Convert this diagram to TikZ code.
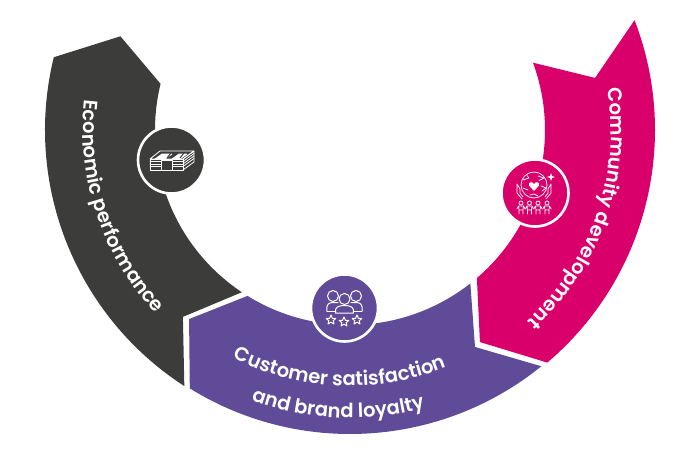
\documentclass[tikz,border=0pt]{standalone}
\usepackage{fontspec}
\setmainfont[BoldFont={Poppins SemiBold}]{Poppins}
\usetikzlibrary{decorations.text}
\definecolor{dk}{HTML}{3C3C3B}
\definecolor{pu}{HTML}{5F4B97}
\definecolor{mg}{HTML}{D9006C}
\tikzset{x=1pt,y=1pt,
 img/.style={shift={(-350,130)},yscale=-1},
 badge/.style={circle,draw=white,line width=2.6pt,inner sep=0pt,minimum size=67pt},
 ic/.style={draw=white,line width=0.8pt,line join=round,line cap=round},
 curved/.style={decorate,decoration={text along path,text align=center,raise=0pt,
   text={|\fontsize{19.5}{20}\bfseries\color{white}|#1}}}}
\begin{document}
\begin{tikzpicture}
\useasboundingbox (-350,-320) rectangle (350,130);
\fill[white] (-350,-320) rectangle (350,130);
% segments
\fill[dk] (166.2:305) arc[start angle=166.2,end angle=237.1,radius=305pt] -- (228.2:250.7) -- (236.3:195) arc[start angle=236.3,end angle=166.3,radius=195pt] -- (157.8:248) -- cycle;
\fill[pu] (238.2:304) arc[start angle=238.2,end angle=309,radius=304pt] -- (299.95:250.4) -- (308.1:195) arc[start angle=308.1,end angle=238.3,radius=195pt] -- (229.6:248.3) -- cycle;
\fill[mg] (310.3:305) arc[start angle=310.3,end angle=381.1,radius=305pt] -- (12:250.5) -- (20.2:195) arc[start angle=20.2,end angle=-49.4,radius=195pt] -- (301.5:248.7) -- cycle;
% badges
\node[badge,fill=dk] (b1) at (-178.5,-30) {};
\node[badge,fill=pu] (b2) at (-5.5,-178) {};
\node[badge,fill=mg] (b3) at (185,-63) {};
% labels
\path[curved={Economic performance}] (172.6:267) arc[start angle=172.6,end angle=224.2,radius=267pt];
\path[curved={Customer satisfaction}] (240:256) arc[start angle=240,end angle=295,radius=256pt];
\path[curved={and brand loyalty}] (248:288) arc[start angle=248,end angle=287,radius=288pt];
\path[curved={Community development}] (12:261) arc[start angle=12,end angle=-50,radius=261pt];
% money icon
\begin{scope}[img]
\draw[ic,fill=dk] (150,159) -- (160,151) -- (194,151) -- (183,159) -- cycle;
\draw[ic,fill=dk] (150,159) rectangle (183,170);
\draw[ic] (183,159) -- (194,151) -- (194,162) -- (183,170);
\draw[ic] (183,161.5) -- (194,153.5) (183,164) -- (194,156) (183,166.5) -- (194,158.5);
\draw[ic] (150,161.5) -- (183,161.5) (150,164) -- (183,164) (150,166.5) -- (183,166.5);
\draw[ic,fill=white] (155,159) -- (162,154) -- (172,154) -- (165,159) -- cycle;
\draw[ic,fill=white] (172,159) -- (179,154) -- (187,154) -- (180,159) -- cycle;
\draw[dk,line width=1pt] (167,158) -- (171,153) (180,158) -- (184,153);
\draw[ic,fill=dk,line width=1pt] (162,160) rectangle (173,170);
% people icon
\draw[ic,line width=1pt] (333,296) circle[radius=5.5];
\draw[ic,line width=1pt] (356,296) circle[radius=5.5];
\draw[ic,line width=1pt] (327,311) .. controls (326,304) and (329,302.5) .. (333,302.5) -- (338,302.5);
\draw[ic,line width=1pt] (327,311) -- (336,311);
\draw[ic,line width=1pt] (362,311) .. controls (363,304) and (360,302.5) .. (356,302.5) -- (351,302.5);
\draw[ic,line width=1pt] (362,311) -- (353,311);
\draw[ic,fill=pu,line width=1pt] (344.5,299) circle[radius=5.5];
\draw[ic,fill=pu,line width=1pt] (335.5,313) .. controls (334.5,307) and (338.5,305.5) .. (344.5,305.5) .. controls (350.5,305.5) and (354.5,307) .. (353.5,313) -- cycle;
\foreach \cx/\cy in {331/320,344/322,357/320}{
 \draw[ic,line width=1pt] (\cx,\cy-5) -- (\cx+1.4,\cy-1.7) -- (\cx+4.8,\cy-1.5) -- (\cx+2.2,\cy+0.7) -- (\cx+3,\cy+4) -- (\cx,\cy+2.2) -- (\cx-3,\cy+4) -- (\cx-2.2,\cy+0.7) -- (\cx-4.8,\cy-1.5) -- (\cx-1.4,\cy-1.7) -- cycle;
}
% community icon
\draw[ic,line width=0.7pt] (534,185) circle[radius=13];
\fill[white] (534,191) -- (529,185.5) .. controls (528,182) and (532,181) .. (534,184) .. controls (536,181) and (540,182) .. (539,185.5) -- cycle;
\draw[ic,line width=0.7pt] (523,180) -- (529,178) -- (527,175.5) (538,176) -- (544,178) -- (539,180.5) (523,188) -- (528,190) (541,186) -- (546,188) -- (542,191) (530,195) -- (534,194) -- (538,196);
\foreach \s/\hx in {-1/517,1/551}{
 \draw[ic,line width=0.7pt] (\hx+\s*0,184) -- (\hx+\s*0,193) -- (\hx-\s*5,199) (\hx+\s*0,184) -- (\hx-\s*3,189) -- (\hx-\s*3,193) -- (\hx-\s*6,197);
}
\fill[white] (551,173) -- (552,176) -- (555,177) -- (552,178) -- (551,181) -- (550,178) -- (547,177) -- (550,176) -- cycle;
\foreach \px in {521,529.5,538,547}{
 \draw[ic,line width=0.7pt] (\px,203) circle[radius=2];
 \draw[ic,line width=0.7pt] (\px-2.5,206) -- (\px+2.5,206) -- (\px+2,210) -- (\px+2,214) (\px-2.5,206) -- (\px-2,210) -- (\px-2,214) (\px-2,210) -- (\px+2,210) (\px-2.5,206) -- (\px-4.2,209) (\px+2.5,206) -- (\px+4.2,209);
}
\end{scope}
\end{tikzpicture}
\end{document}
